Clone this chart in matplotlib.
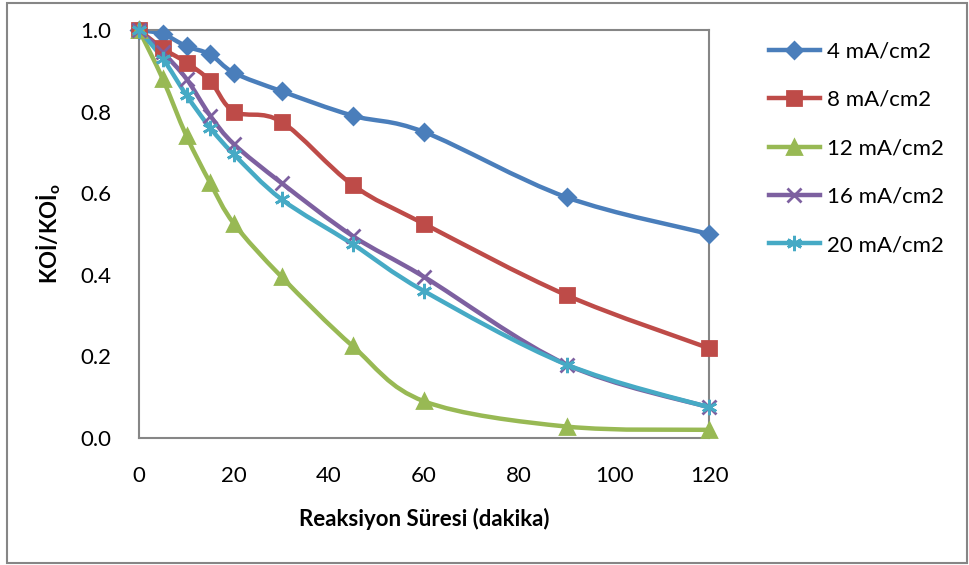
import matplotlib.pyplot as plt
from matplotlib.path import Path
from matplotlib.patches import PathPatch, Rectangle
from matplotlib.lines import Line2D

plt.rcParams['font.family'] = ['Lato', 'DejaVu Sans']

minutes = [0, 5, 10, 15, 20, 30, 45, 60, 90, 120]
koi_4 = [1.0, 0.99, 0.96, 0.94, 0.895, 0.85, 0.79, 0.75, 0.59, 0.50]
koi_8 = [1.0, 0.955, 0.92, 0.875, 0.80, 0.775, 0.62, 0.525, 0.35, 0.22]
koi_12 = [1.0, 0.88, 0.74, 0.625, 0.525, 0.395, 0.225, 0.09, 0.028, 0.02]
koi_16 = [1.0, 0.945, 0.88, 0.79, 0.72, 0.625, 0.495, 0.395, 0.18, 0.075]
koi_20 = [1.0, 0.93, 0.84, 0.76, 0.695, 0.585, 0.475, 0.36, 0.18, 0.075]
labels = ['4 mA/cm2', '8 mA/cm2', '12 mA/cm2', '16 mA/cm2', '20 mA/cm2']
x_ticks = [0, 20, 40, 60, 80, 100, 120]
y_ticks = [0.0, 0.2, 0.4, 0.6, 0.8, 1.0]

colors = ['#4a7ebb', '#be4b48', '#98b954', '#7d60a0', '#46aac5']
markers = ['D', 's', '^', 'x', (6, 2, 0)]
msizes = [8, 10, 10, 10, 11]


def smooth_path(xs, ys, t=1/6):
    # excel-like smoothed line: cubic bezier through every point
    verts = [(xs[0], ys[0])]
    codes = [Path.MOVETO]
    n = len(xs)
    for i in range(n - 1):
        x0, y0 = (xs[i - 1], ys[i - 1]) if i > 0 else (xs[i], ys[i])
        x3, y3 = (xs[i + 2], ys[i + 2]) if i + 2 < n else (xs[i + 1], ys[i + 1])
        c1 = (xs[i] + (xs[i + 1] - x0) * t, ys[i] + (ys[i + 1] - y0) * t)
        c2 = (xs[i + 1] - (x3 - xs[i]) * t, ys[i + 1] - (y3 - ys[i]) * t)
        verts += [c1, c2, (xs[i + 1], ys[i + 1])]
        codes += [Path.CURVE4] * 3
    return Path(verts, codes)


fig = plt.figure(figsize=(9.7, 5.65), dpi=100)
ax = fig.add_axes([0.1433, 0.2248, 0.5877, 0.7221])

series = [koi_4, koi_8, koi_12, koi_16, koi_20]
handles = []
for ys, c, m, ms, lab in zip(series, colors, markers, msizes, labels):
    ax.add_patch(PathPatch(smooth_path(minutes, ys), fill=False, edgecolor=c,
                           lw=3.2, capstyle='round', joinstyle='round', zorder=2))
    ax.plot(minutes, ys, ls='none', marker=m, ms=ms, color=c, mec=c,
            mew=2, zorder=3, clip_on=False)
    handles.append(Line2D([], [], color=c, lw=3.2, marker=m, ms=ms, mec=c, mew=2, label=lab))

ax.set_xlim(0, 120)
ax.set_ylim(0, 1.0)
ax.set_xticks(x_ticks)
ax.set_yticks(y_ticks)
ax.set_yticklabels([f'{v:.1f}' for v in y_ticks])
ax.tick_params(length=0, labelsize=16)
ax.tick_params(axis='x', pad=20)
ax.tick_params(axis='y', pad=20)
for s in ax.spines.values():
    s.set_color('#868686')
    s.set_linewidth(1.5)

ax.set_xlabel('Reaksiyon Süresi (dakika)', fontsize=16, fontweight='bold', labelpad=16)
ax.set_ylabel('KOİ/KOİ$_\\mathregular{o}$', fontsize=16, fontweight='bold', labelpad=12)

fig.legend(handles=handles, loc='upper left', bbox_to_anchor=(0.772, 0.962),
           frameon=False, fontsize=16, handlelength=2.3, labelspacing=1.28,
           handletextpad=0.3)

fig.patches.append(Rectangle((0.007, 0.004), 0.99, 0.99, transform=fig.transFigure,
                             fill=False, edgecolor='#868686', lw=1.5))

fig.savefig('out.png', dpi=100)
